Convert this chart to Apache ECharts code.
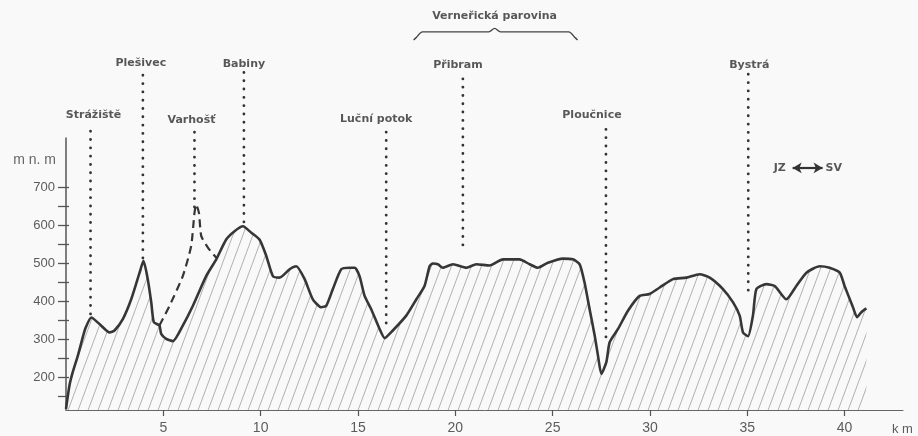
<!DOCTYPE html>
<html><head><meta charset="utf-8">
<script src="https://cdn.jsdelivr.net/npm/echarts@6/dist/echarts.min.js"></script>
<style>html,body{margin:0;padding:0;background:#f9f9f9}#c{width:918px;height:436px}</style>
</head><body><div id="c"></div>
<script>
// ---------- data ----------
const profileKm = [0,0.18,0.35,0.61,0.86,1.0,1.3,1.72,2.24,2.49,2.92,3.35,3.78,3.98,4.2,4.38,4.51,4.8,4.89,5.15,5.49,6.0,6.52,7.2,7.72,8.23,8.66,9.09,9.52,9.94,10.29,10.63,10.97,11.49,11.83,12.26,12.68,13.11,13.37,13.71,14.14,14.57,14.83,15.08,15.34,15.68,16.11,16.37,16.79,17.48,18.0,18.42,18.68,18.85,19.1,19.36,19.88,20.57,21.08,21.76,22.45,23.3,23.82,24.24,24.76,25.53,26.04,26.39,26.64,26.9,27.16,27.33,27.5,27.76,27.93,28.36,28.87,29.47,29.98,30.5,31.18,31.87,32.55,33.07,33.75,34.27,34.61,34.78,35.04,35.29,35.47,35.98,36.41,37.01,37.52,38.04,38.72,39.23,39.75,40.0,40.43,40.64,40.86,41.12];
const profileElev = [118,180,215,258,306,330,358,341,319,324,354,406,476,507,459,398,346,337,315,302,296,337,389,467,511,563,585,598,581,563,520,467,463,485,493,459,406,385,389,433,485,489,489,467,415,380,328,304,324,363,406,441,493,500,498,489,498,489,498,495,511,511,498,489,502,513,511,498,450,380,311,258,210,241,293,328,376,415,420,437,459,463,472,463,433,398,363,319,309,363,433,446,441,406,441,476,493,489,476,441,385,359,372,382];

const varhostKm = [4.8,5.32,6.0,6.43,6.6,6.69,6.83,6.95,7.29,7.72];
const varhostElev = [337,389,467,546,633,655,633,572,542,515];

const xTickLabels = [5,10,15,20,25,30,35,40];
const yTickLabels = [200,300,400,500,600,700];
const yTickMarks = [150,200,250,300,350,400,450,500,550,600,650,700];

const peakNames = ['Strážiště','Plešivec','Varhošť','Babiny','Luční potok','Přibram','Ploučnice','Bystrá'];
const peakKm = [1.26,3.95,6.6,9.14,16.45,20.39,27.74,35.05];
const guideTop = [869,1007,856,1002,859,1000,869,1000];
const guideBottom = [371,517,650,611,347,551,311,433];

const regionName = 'Verneřická parovina';
const regionKm = [17.86, 22.02, 26.28];      // from, middle, to
const regionElev = [1086, 1107, 1116];       // ends, bar, tip

const directionLabels = ['JZ','SV'];
const directionKm = [36.67, 39.44];
const directionArrowKm = [37.33, 38.87];
const directionElev = 752;

const yMin = 115, yMax = 830, xMin = 0, xMax = 43;

// ---------- layout ----------
const W = 918, H = 436;
const gTop = 138, gBottom = 24, gLeft = 66, gRight = 15;
const yMaxFull = yMin + (yMax - yMin) * (H - gBottom) / (H - gBottom - gTop);

// hatch pattern
const pc = document.createElement('canvas');
pc.width = 10; pc.height = 27;
const ctx = pc.getContext('2d');
ctx.strokeStyle = '#999'; ctx.lineWidth = 0.75;
[-10, 0, 10].forEach(o => { ctx.beginPath(); ctx.moveTo(o, 27); ctx.lineTo(o + 10, 0); ctx.stroke(); });

const labelFont = { fontFamily: 'DejaVu Sans', fontWeight: 'bold', fontSize: 11, color: '#2e2e2e' };
const labelDx = [3, -2, -3, 0, -10, -5, -14, 1];

const series = [];
series.push({
  type: 'line', xAxisIndex: 0, yAxisIndex: 0, clip: false,
  data: profileKm.map((k, i) => [k, profileElev[i]]),
  showSymbol: false, symbol: 'none', smooth: 0.2,
  lineStyle: { color: '#363636', width: 2.6 },
  areaStyle: { color: { image: pc, repeat: 'repeat' }, opacity: 1, origin: 'start' },
  z: 3
});
series.push({
  type: 'line', xAxisIndex: 0, yAxisIndex: 0, clip: false,
  data: varhostKm.map((k, i) => [k, varhostElev[i]]),
  showSymbol: false, symbol: 'none', smooth: 0.2,
  lineStyle: { color: '#363636', width: 2.2, type: [8, 5] },
  z: 3
});
peakKm.forEach((k, i) => {
  series.push({
    type: 'line', xAxisIndex: 1, yAxisIndex: 2, clip: false,
    data: [[k, guideBottom[i]], [k, guideTop[i]]],
    showSymbol: false, symbol: 'none',
    lineStyle: { color: '#333', width: 2.8, type: [0.1, 8.2], cap: 'round' },
    z: 4
  });
});
series.push({
  type: 'scatter', xAxisIndex: 1, yAxisIndex: 2, symbolSize: 0,
  data: peakKm.map((k, i) => ({ value: [k, guideTop[i]], name: peakNames[i], label: { offset: [labelDx[i], 0] } })),
  label: Object.assign({ show: true, position: 'top', distance: 2, formatter: p => p.name }, labelFont),
  z: 5
});
// brace
const [bf, bm, bt] = regionKm;
const [be, bb, btip] = regionElev;
series.push({
  type: 'line', xAxisIndex: 1, yAxisIndex: 2, clip: false,
  data: [[bf, be], [bf + 0.15, bb - 14], [bf + 0.45, bb], [bm - 0.3, bb], [bm, btip], [bm + 0.3, bb], [bt - 0.45, bb], [bt - 0.15, bb - 14], [bt, be]],
  showSymbol: false, symbol: 'none', smooth: 0.3,
  lineStyle: { color: '#444', width: 1.4 }, z: 4
});
series.push({
  type: 'scatter', xAxisIndex: 1, yAxisIndex: 2, symbolSize: 0,
  data: [{ value: [bm, btip], name: regionName }],
  label: Object.assign({ show: true, position: 'top', distance: 7, formatter: p => p.name }, labelFont),
  z: 5
});
// direction
series.push({
  type: 'scatter', xAxisIndex: 1, yAxisIndex: 2, symbolSize: 0,
  data: directionKm.map((k, i) => ({ value: [k, directionElev], name: directionLabels[i] })),
  label: Object.assign({ show: true, position: 'inside', formatter: p => p.name }, labelFont),
  markLine: {
    silent: true, animation: false,
    symbol: ['arrow', 'arrow'], symbolSize: [8, 9],
    lineStyle: { color: '#333', width: 2.2, type: 'solid' },
    label: { show: false },
    data: [[{ coord: [directionArrowKm[0], directionElev] }, { coord: [directionArrowKm[1], directionElev] }]]
  },
  z: 5
});

const tickFont = { fontFamily: 'Liberation Sans', fontSize: 13, color: '#5c5c5c' };

const option = {
  animation: false,
  backgroundColor: '#f9f9f9',
  grid: [
    { left: gLeft, right: gRight, top: gTop, bottom: gBottom },
    { left: gLeft, right: gRight, top: 0, bottom: gBottom }
  ],
  xAxis: [
    {
      type: 'value', gridIndex: 0, min: xMin, max: xMax,
      name: 'k m', nameLocation: 'end', nameGap: -11,
      nameTextStyle: { fontFamily: 'Liberation Sans', fontSize: 13, color: '#5c5c5c', align: 'left', verticalAlign: 'top', padding: [13, 0, 0, 0] },
      axisLine: { show: true, lineStyle: { color: '#666', width: 1 } },
      axisTick: { show: true, length: 6, lineStyle: { color: '#555', width: 1.2 }, customValues: xTickLabels },
      axisLabel: { margin: 11, customValues: xTickLabels, fontFamily: "'Liberation Sans Narrow', 'Liberation Sans'", fontSize: 14, color: '#5c5c5c' },
      splitLine: { show: false }
    },
    { type: 'value', gridIndex: 1, min: xMin, max: xMax, show: false }
  ],
  yAxis: [
    {
      type: 'value', gridIndex: 0, min: yMin, max: yMax,
      name: 'm n. m', nameLocation: 'end', nameGap: -29,
      nameTextStyle: { fontFamily: 'Liberation Sans', fontSize: 14, color: '#666', align: 'right', padding: [0, 10, 0, 0] },
      axisLine: { show: true, lineStyle: { color: '#555', width: 1.5 } },
      axisTick: { show: true, length: 8, lineStyle: { color: '#555', width: 1.3 }, customValues: yTickMarks },
      axisLabel: Object.assign({ margin: 11, customValues: yTickLabels }, tickFont),
      splitLine: { show: false }
    },
    {
      type: 'value', gridIndex: 0, min: yMin, max: yMax, position: 'left',
      axisLine: { show: false }, axisLabel: { show: false }, splitLine: { show: false },
      axisTick: { show: true, inside: true, length: 3, lineStyle: { color: '#555', width: 1.3 }, customValues: yTickMarks }
    },
    { type: 'value', gridIndex: 1, min: yMin, max: yMaxFull, show: false }
  ],
  series
};
const chart = echarts.init(document.getElementById('c'), null, { renderer: 'canvas', width: W, height: H });
chart.setOption(option);
</script></body></html>
